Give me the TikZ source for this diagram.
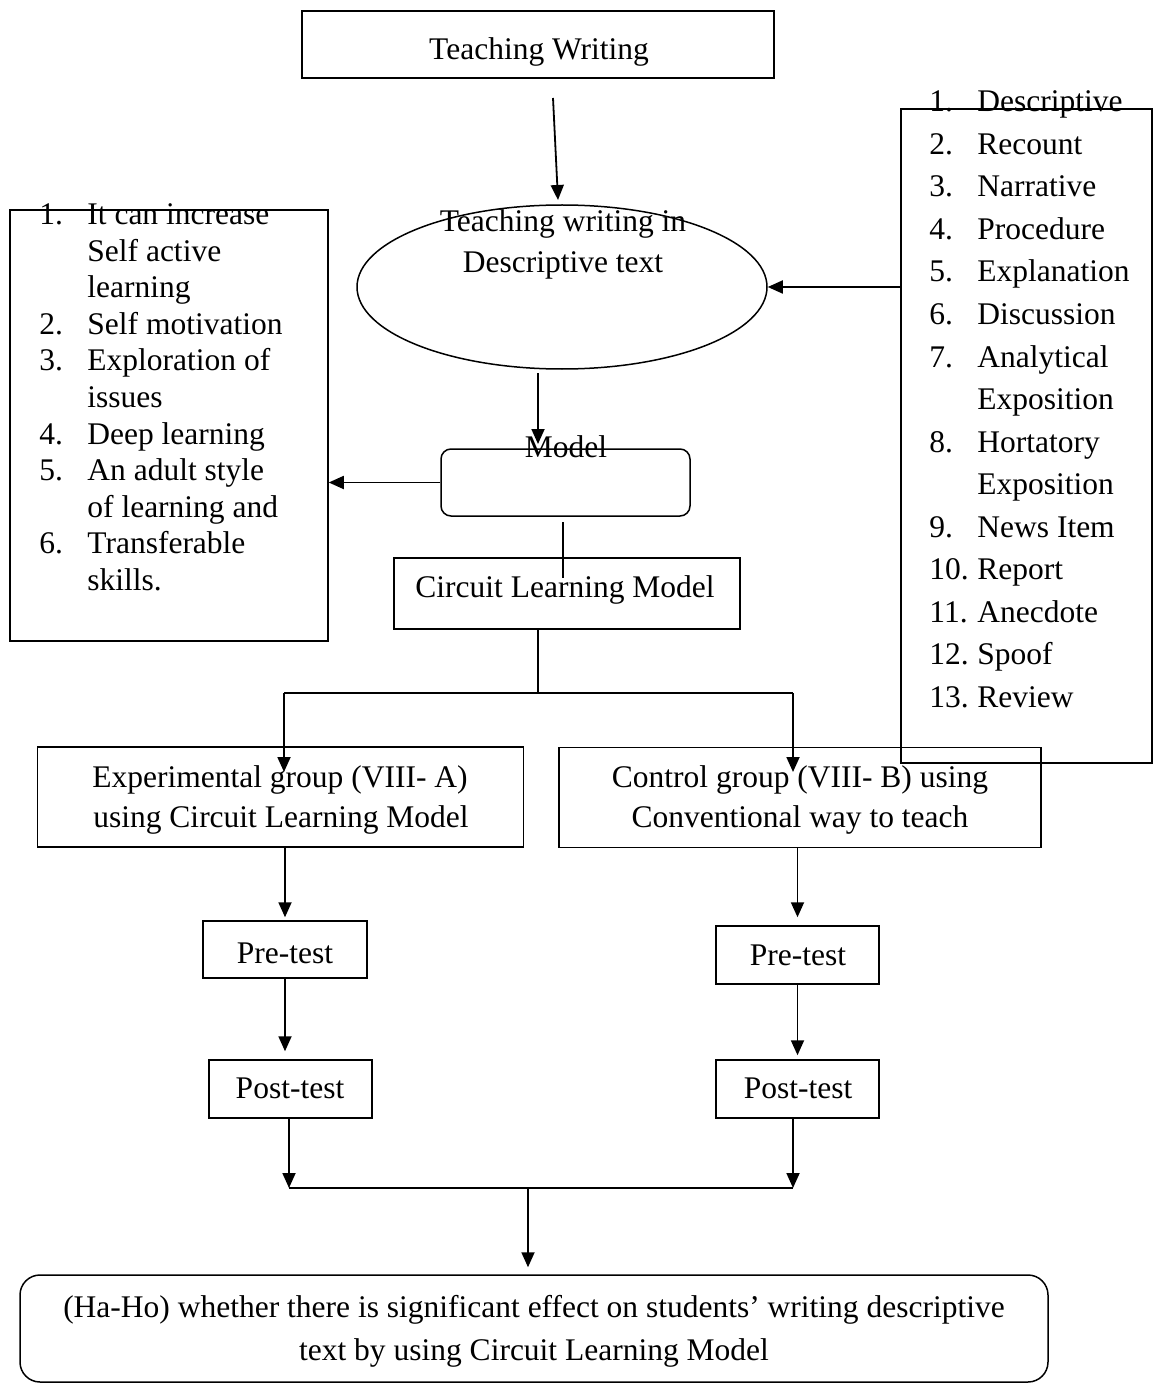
\documentclass[tikz,border=0pt]{standalone}
\usepackage{fontspec}
\setmainfont{Liberation Serif}
\usetikzlibrary{arrows.meta,shapes.geometric}

\tikzset{
  box/.style={draw, line width=0.75pt, inner sep=0pt},
  txt/.style={anchor=base, inner sep=0pt, font=\fontsize{15.75}{20}\selectfont},
  arr/.style={-{Triangle[length=7.5pt,width=6.5pt]}, line width=0.9pt},
  link/.style={line width=0.9pt}
}

\begin{document}
\begin{tikzpicture}[x=0.5pt, y=-0.5pt]
\useasboundingbox (0,0) rectangle (1154,1385);

% Top box
\node[box, minimum width=236pt, minimum height=33.5pt] (tw) at (538,44.5) {};
\node[txt] (twtext) at (539,60) {Teaching Writing};

% Ellipse
\node[box, ellipse, minimum width=205pt, minimum height=82pt] (ell) at (562,287) {};
\node[txt] (elltexta) at (563,232) {Teaching writing in};
\node[txt] (elltextb) at (563,273) {Descriptive text};

% Model
\node[box, rounded corners=5pt, minimum width=124.5pt, minimum height=33.5pt] (model) at (565.5,482.5) {};
\node[txt] (modeltext) at (566,457) {Model};

% Circuit Learning Model
\node[box, minimum width=173pt, minimum height=35.5pt] (clm) at (567,593.5) {};
\node[txt] (clmtext) at (565,597) {Circuit Learning Model};

% Left list
\node[box, minimum width=159pt, minimum height=215.5pt] (llist) at (169,425.5) {};
\foreach \n/\t [count=\k from 0] in {1./It can increase, /Self active, /learning,
  2./Self motivation, 3./Exploration of, /issues, 4./Deep learning,
  5./An adult style, /of learning and, 6./Transferable, /skills.}
{
  \node[txt, anchor=base west] (lnum\k) at (39,225+36.5*\k) {\n};
  \node[txt, anchor=base west] (litem\k) at (87,225+36.5*\k) {\t};
}

% Right list
\node[box, minimum width=125.5pt, minimum height=327pt] (rlist) at (1026.5,436) {};
\foreach \n/\t [count=\k from 0] in {1./Descriptive, 2./Recount, 3./Narrative,
  4./Procedure, 5./Explanation, 6./Discussion, 7./Analytical, /Exposition,
  8./Hortatory, /Exposition, 9./News Item, 10./Report, 11./Anecdote,
  12./Spoof, 13./Review}
{
  \node[txt, anchor=base west] (rnum\k) at (929,112+42.5*\k) {\n};
  \node[txt, anchor=base west] (ritem\k) at (977,112+42.5*\k) {\t};
}

% Groups
\node[box, minimum width=243pt, minimum height=50pt] (exp) at (280.5,797) {};
\node[txt] (exptexta) at (280,787) {Experimental group (VIII- A)};
\node[txt] (exptextb) at (281,827) {using Circuit Learning Model};

\node[box, minimum width=241pt, minimum height=50pt] (ctrl) at (800,797.5) {};
\node[txt] (ctrltexta) at (800,787) {Control group (VIII- B) using};
\node[txt] (ctrltextb) at (800,827) {Conventional way to teach};

% Tests
\node[box, minimum width=82pt, minimum height=28.5pt] (lpre) at (285,949.5) {};
\node[txt] (lpretext) at (285,963) {Pre-test};
\node[box, minimum width=81.5pt, minimum height=29pt] (lpost) at (290.5,1089) {};
\node[txt] (lposttext) at (290,1098) {Post-test};

\node[box, minimum width=81.5pt, minimum height=29pt] (rpre) at (797.5,955) {};
\node[txt] (rpretext) at (798,965) {Pre-test};
\node[box, minimum width=81.5pt, minimum height=29pt] (rpost) at (797.5,1089) {};
\node[txt] (rposttext) at (798,1098) {Post-test};

% Hypothesis
\node[box, rounded corners=10pt, minimum width=514pt, minimum height=53.5pt] (final) at (534,1328.5) {};
\node[txt] (finaltexta) at (534,1317) {(Ha-Ho) whether there is significant effect on students’ writing descriptive};
\node[txt] (finaltextb) at (534,1360) {text by using Circuit Learning Model};

% Connectors
\coordinate (twout) at (553,98);
\coordinate (ellin) at (558,200);
\draw[arr] (twout) -- (ellin);
\draw[arr] (rlist.west |- ell.east) -- (ell.east);

\coordinate (ellout) at (538,373);
\coordinate (modelin) at (538,444);
\draw[arr] (ellout) -- (modelin);
\draw[arr] (model.west) -- (llist.east |- model.west);

\coordinate (modelout) at (563,522);
\coordinate (clmin) at (563,578);
\draw[link] (modelout) -- (clmin);

% Split
\coordinate (split) at (538,693);
\coordinate (splitl) at (284,693);
\coordinate (splitr) at (793,693);
\coordinate (expin) at (284,772);
\coordinate (ctrlin) at (793,772);
\draw[link] (clm.south -| split) -- (split);
\draw[link] (splitl) -- (splitr);
\draw[arr] (splitl) -- (expin);
\draw[arr] (splitr) -- (ctrlin);

% Tests
\draw[arr, shorten >=1.5pt] (lpre.north |- exp.south) -- (lpre.north);
\draw[arr, shorten >=4pt] (lpre.south) -- (lpre.south |- lpost.north);
\draw[arr, shorten >=4pt] (rpre.north |- ctrl.south) -- (rpre.north);
\draw[arr, shorten >=2pt] (rpre.south) -- (rpre.south |- rpost.north);

% Merge
\coordinate (mergel) at (289,1188);
\coordinate (merger) at (793,1188);
\coordinate (mergemid) at (528,1188);
\draw[arr] (lpost.south -| mergel) -- (mergel);
\draw[arr] (rpost.south -| merger) -- (merger);
\draw[link] (mergel) -- (merger);
\draw[arr, shorten >=3.5pt] (mergemid) -- (mergemid |- final.north);

\end{tikzpicture}
\end{document}
